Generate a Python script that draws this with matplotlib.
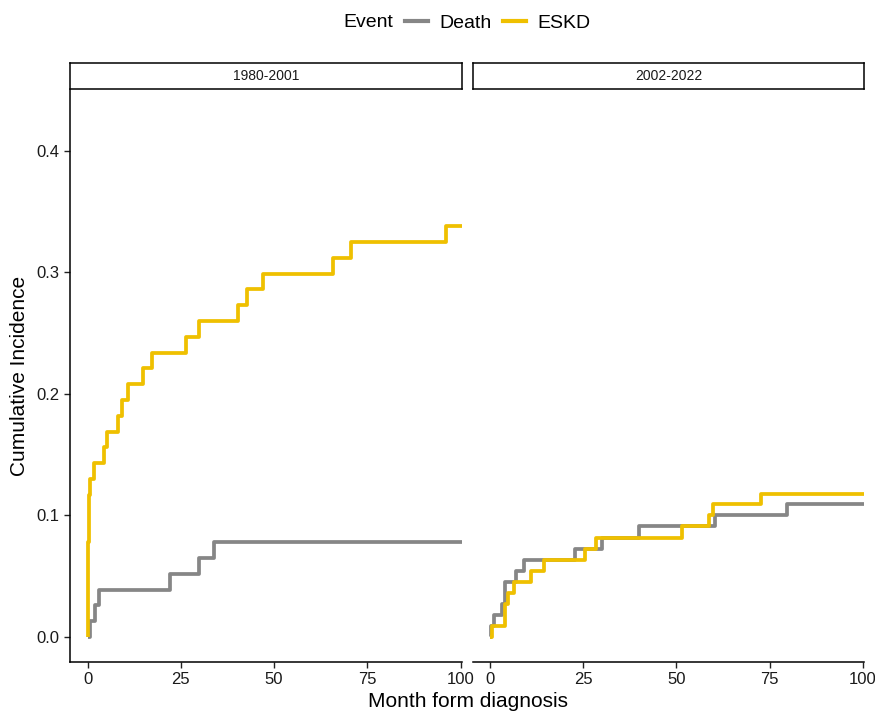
import matplotlib
matplotlib.use('Agg')
import matplotlib.pyplot as plt
from matplotlib.lines import Line2D

plt.rcParams['font.family'] = ['Liberation Sans', 'DejaVu Sans']

# ── Data ──────────────────────────────────────────────────────────────────
periods = ['1980-2001', '2002-2022']
events = ['Death', 'ESKD']
colors = {'Death': '#868686', 'ESKD': '#EFC000'}

# 1980-2001
death_t_1 = [0, 0.7, 2.0, 3.0, 22.0, 29.9, 34.0, 100.5]
death_y_1 = [0, 0.013, 0.026, 0.039, 0.052, 0.065, 0.078, 0.078]
eskd_t_1 = [0, 0.1, 0.4, 0.7, 1.7, 4.4, 5.3, 8.1, 9.3, 10.8, 14.9, 17.4, 26.5,
            29.9, 40.4, 42.7, 47.0, 65.9, 70.6, 96.2, 100.5]
eskd_y_1 = [0, 0.078, 0.117, 0.130, 0.143, 0.156, 0.169, 0.182, 0.195, 0.208,
            0.221, 0.234, 0.247, 0.260, 0.273, 0.286, 0.299, 0.312, 0.325,
            0.338, 0.338]

# 2002-2022
death_t_2 = [0, 0.1, 0.9, 3.1, 3.8, 6.9, 8.9, 22.8, 30.1, 40.0, 60.3, 79.6, 100.5]
death_y_2 = [0, 0.009, 0.018, 0.027, 0.045, 0.0545, 0.0636, 0.0727, 0.0818,
             0.0909, 0.100, 0.109, 0.109]
eskd_t_2 = [0, 0.5, 4.0, 4.8, 6.2, 11.0, 14.3, 25.5, 28.4, 51.6, 58.7, 59.8,
            72.8, 100.5]
eskd_y_2 = [0, 0.009, 0.027, 0.036, 0.045, 0.0545, 0.0636, 0.0727, 0.0818,
            0.0909, 0.100, 0.109, 0.118, 0.118]

series = {
    '1980-2001': {'Death': (death_t_1, death_y_1), 'ESKD': (eskd_t_1, eskd_y_1)},
    '2002-2022': {'Death': (death_t_2, death_y_2), 'ESKD': (eskd_t_2, eskd_y_2)},
}

x_ticks = [0, 25, 50, 75, 100]
y_ticks = [0.0, 0.1, 0.2, 0.3, 0.4]

# ── Figure ────────────────────────────────────────────────────────────────
W, H = 875, 711
fig = plt.figure(figsize=(W / 100, H / 100), dpi=100)
fig.patch.set_facecolor('white')


def px_box(x0, x1, ytop, ybot):
    return [x0 / W, 1 - ybot / H, (x1 - x0) / W, (ybot - ytop) / H]


panels = [(70, 462), (473, 864)]
for i, (period, (x0, x1)) in enumerate(zip(periods, panels)):
    ax = fig.add_axes(px_box(x0, x1, 90, 662))
    for ev in events:
        t, y = series[period][ev]
        ax.step(t, y, where='post', color=colors[ev], lw=2.7, solid_capstyle='butt')
    ax.set_xlim(-4.7, 100.4)
    ax.set_ylim(-0.0206, 0.45)
    ax.set_xticks(x_ticks)
    ax.set_xticklabels([str(v) for v in x_ticks])
    ax.spines['top'].set_visible(False)
    ax.spines['right'].set_visible(False)
    ax.spines['bottom'].set_linewidth(1.1)
    ax.tick_params(axis='both', labelsize=12, color='#222222', length=4,
                   width=1.0, labelcolor='#1a1a1a')
    if i == 0:
        ax.set_yticks(y_ticks)
        ax.set_yticklabels([f'{v:.1f}' for v in y_ticks])
        ax.spines['left'].set_linewidth(1.1)
    else:
        ax.spines['left'].set_visible(False)
        ax.set_yticks([])

    # facet strip
    sax = fig.add_axes(px_box(x0, x1, 63, 89))
    sax.set_xticks([])
    sax.set_yticks([])
    for sp in sax.spines.values():
        sp.set_linewidth(1.1)
        sp.set_color('black')
    sax.text(0.5, 0.5, period, ha='center', va='center', fontsize=10,
             color='#1a1a1a', transform=sax.transAxes)

fig.text(20 / W, 1 - 376 / H, 'Cumulative Incidence', ha='center', va='center',
         rotation=90, fontsize=15)
fig.text(468 / W, 1 - 707 / H, 'Month form diagnosis', ha='center', va='baseline',
         fontsize=15)

# legend on top
fig.text(393 / W, 1 - 22.7 / H, 'Event', ha='right', va='center', fontsize=14)
handles = [Line2D([], [], color=colors[ev], lw=3) for ev in events]
fig.legend(handles, events, loc='center', bbox_to_anchor=(498 / W, 1 - 22.7 / H),
           ncol=2, frameon=False, fontsize=14, handlelength=1.15,
           handletextpad=0.6, columnspacing=0.6, borderpad=0, borderaxespad=0)

fig.savefig('out.png', dpi=100)
